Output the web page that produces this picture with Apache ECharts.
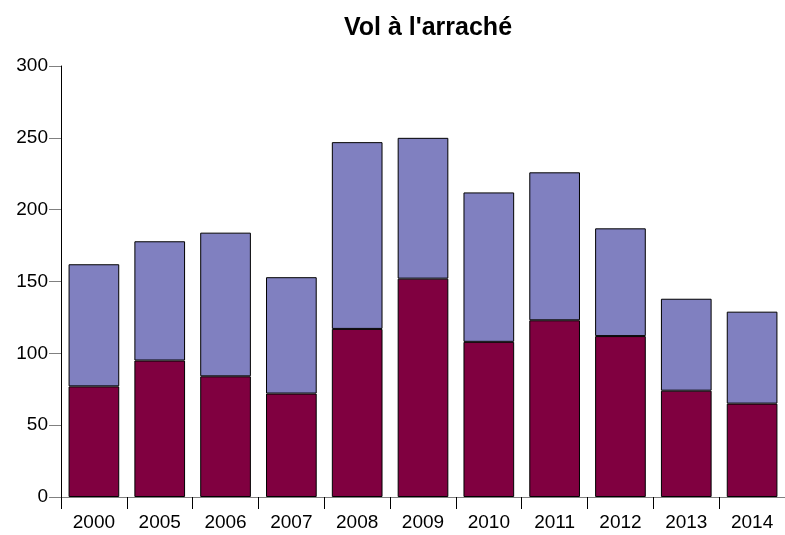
<!DOCTYPE html>
<html><head><meta charset="utf-8">
<script src="https://cdn.jsdelivr.net/npm/echarts@6/dist/echarts.min.js"></script>
<style>html,body{margin:0;padding:0;background:#fff}#c{width:785px;height:535px}</style>
</head><body><div id="c"></div>
<script>
const categories = ['2000','2005','2006','2007','2008','2009','2010','2011','2012','2013','2014'];
const lowerValues = [77, 95, 84, 72, 117, 152, 108, 123, 112, 74, 65];
const totalValues = [162, 178, 184, 153, 247, 250, 212, 226, 187, 138, 129];
const upperValues = totalValues.map((t, i) => t - lowerValues[i]);
const yTicks = [0, 50, 100, 150, 200, 250, 300];

const chart = echarts.init(document.getElementById('c'));
const font = 'Liberation Sans, Arial, sans-serif';
chart.setOption({
  animation: false,
  title: {text: "Vol à l'arraché", left: 423, textAlign: 'center', top: 11,
    textStyle: {fontFamily: font, fontSize: 25, fontWeight: 'bold', color: '#000'}},
  grid: {left: 61, right: -2, top: 66, bottom: 38},
  xAxis: {type: 'category', data: categories,
    axisLine: {lineStyle: {color: '#808080', width: 1}},
    axisTick: {show: true, length: 12, lineStyle: {color: '#000', width: 1}},
    axisLabel: {fontFamily: font, fontSize: 19, color: '#000', margin: 16}},
  yAxis: {type: 'value', min: yTicks[0], max: yTicks[yTicks.length-1], interval: 50,
    splitLine: {show: false},
    axisLine: {show: true, lineStyle: {color: '#000', width: 1}},
    axisTick: {show: true, length: 12, lineStyle: {color: '#808080'}},
    axisLabel: {fontFamily: font, fontSize: 19, color: '#000', margin: 13}},
  series: [
    {type: 'bar', stack: 's', data: lowerValues, barCategoryGap: '23%',
     itemStyle: {color: '#800040', borderColor: '#000', borderWidth: 1}},
    {type: 'bar', stack: 's', data: upperValues,
     itemStyle: {color: '#8080c0', borderColor: '#000', borderWidth: 1}}
  ]
});
</script></body></html>
